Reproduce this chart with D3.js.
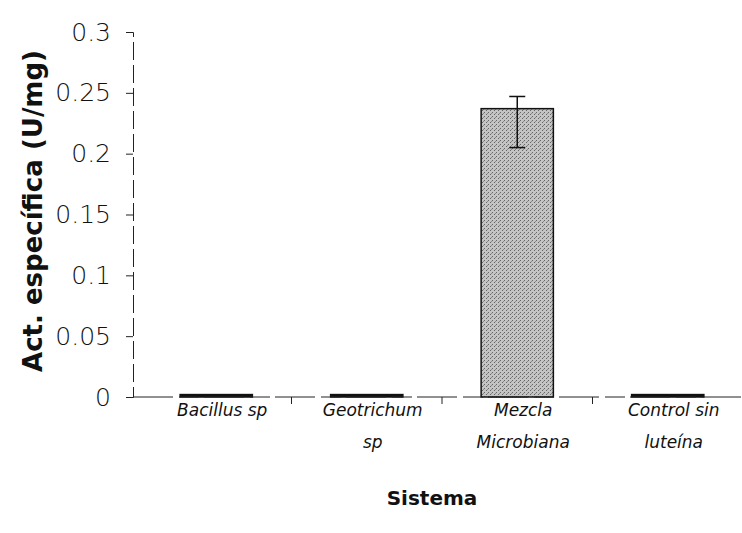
<!DOCTYPE html>
<html>
<head>
<meta charset="utf-8">
<script src="https://cdn.jsdelivr.net/npm/d3@7"></script>
<style>
  html, body { margin: 0; padding: 0; background: #fff; }
  svg { display: block; }
  text { font-family: "DejaVu Sans", sans-serif; fill: #111; }
</style>
</head>
<body>
<svg id="chart" width="742" height="533"></svg>
<script>
// Actividad específica por sistema
const categories = [["Bacillus sp"], ["Geotrichum", "sp"], ["Mezcla", "Microbiana"], ["Control sin", "luteína"]];
const values = [0.002, 0.002, 0.237, 0.002];
const errLow = [null, null, 0.205, null];
const errHigh = [null, null, 0.247, null];
const yTicks = [0, 0.05, 0.1, 0.15, 0.2, 0.25, 0.3];

const svg = d3.select("#chart");
const x0 = 133, x1 = 742, yBase = 397, yTop = 32;

const x = d3.scaleBand().domain(d3.range(categories.length)).range([141, 743]).paddingInner(0.52).paddingOuter(0.26);
const y = d3.scaleLinear().domain([0, 0.3]).range([yBase, yTop]);

// Stipple texture for the tall bar
const defs = svg.append("defs");
const pat = defs.append("pattern").attr("id", "stipple").attr("patternUnits", "userSpaceOnUse")
  .attr("width", 4).attr("height", 4);
pat.append("rect").attr("width", 4).attr("height", 4).attr("fill", "#c4c4c4");
pat.append("rect").attr("x", 0).attr("y", 0).attr("width", 1).attr("height", 1).attr("fill", "#666");
pat.append("rect").attr("x", 2).attr("y", 2).attr("width", 1).attr("height", 1).attr("fill", "#666");
pat.append("rect").attr("x", 3).attr("y", 1).attr("width", 1).attr("height", 1).attr("fill", "#888");

// Bars
svg.selectAll("rect.bar").data(values).join("rect")
  .attr("class", "bar")
  .attr("x", (d, i) => x(i))
  .attr("width", x.bandwidth())
  .attr("y", d => y(d))
  .attr("height", d => yBase - y(d))
  .attr("fill", (d, i) => i === 2 ? "url(#stipple)" : "#111")
  .attr("stroke", "#111")
  .attr("stroke-width", 1.5);

// Error bars
const eb = values.map((v, i) => ({i, lo: errLow[i], hi: errHigh[i]})).filter(d => d.lo != null);
const ebG = svg.append("g").attr("stroke", "#111").attr("stroke-width", 1.5);
eb.forEach(d => {
  const cx = x(d.i) + x.bandwidth() / 2;
  ebG.append("line").attr("x1", cx).attr("x2", cx).attr("y1", y(d.hi)).attr("y2", y(d.lo));
  ebG.append("line").attr("x1", cx - 8).attr("x2", cx + 8).attr("y1", y(d.hi)).attr("y2", y(d.hi));
  ebG.append("line").attr("x1", cx - 8).attr("x2", cx + 8).attr("y1", y(d.lo)).attr("y2", y(d.lo));
});

// Y axis
const yAxis = svg.append("g").attr("transform", `translate(${x0},0)`)
  .call(d3.axisLeft(y).tickValues(yTicks).tickSize(7).tickPadding(15).tickFormat(d => String(d)));
yAxis.select(".domain").attr("stroke", "#222").attr("stroke-dasharray", "18,5");
yAxis.selectAll(".tick line").attr("stroke", "#222");
yAxis.selectAll(".tick text").attr("font-size", 25).attr("font-weight", 200).attr("fill", "#111")
  .style("font-family", "'DejaVu Sans', sans-serif");

// X axis
const xAxis = svg.append("g").attr("transform", `translate(0,${yBase})`);
xAxis.append("line").attr("x1", x0).attr("x2", x1).attr("y1", 0).attr("y2", 0)
  .attr("stroke", "#222").attr("stroke-dasharray", "40,6,20,5");
d3.range(1, categories.length).forEach(i => {
  const bx = x(i) - (x.step() * x.paddingInner()) / 2;
  xAxis.append("line").attr("x1", bx).attr("x2", bx).attr("y1", 0).attr("y2", 7).attr("stroke", "#222");
});
categories.forEach((lines, i) => {
  const cx = x(i) + x.bandwidth() / 2 + 6;
  const t = xAxis.append("text").attr("text-anchor", "middle").attr("font-size", 17)
    .attr("font-style", "italic").attr("font-weight", 200);
  lines.forEach((ln, k) => t.append("tspan").attr("x", cx).attr("y", 19 + k * 32).text(ln));
});

// Axis titles
svg.append("text").attr("x", 432).attr("y", 505).attr("text-anchor", "middle")
  .attr("font-size", 20).attr("font-weight", 700).text("Sistema");
svg.append("text").attr("transform", "translate(42,211) rotate(-90)").attr("text-anchor", "middle")
  .attr("font-size", 26).attr("font-weight", 700).text("Act. específica (U/mg)");
</script>
</body>
</html>
